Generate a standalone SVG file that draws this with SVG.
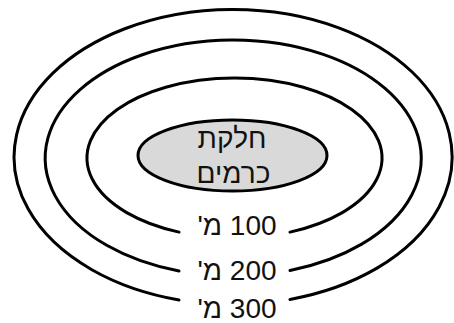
<svg xmlns="http://www.w3.org/2000/svg" width="454" height="323" viewBox="0 0 454 323">
<style>
.ring{fill:none;stroke:#000;stroke-width:3;stroke-linecap:round}
.core{fill:#d9d9d9;stroke:#000;stroke-width:3}
.t{font-family:"Liberation Sans",Arial,sans-serif;font-size:28px;fill:#111;text-anchor:middle}
</style>
<rect width="454" height="323" fill="#fff"/>
<g id="connectors">
<path id="ring300" class="ring" d="M290,299.4 A219,147.5 0 1 0 179,299.9"/>
<path id="ring200" class="ring" d="M290,270.5 A188,118 0 1 0 179,271"/>
<path id="ring100" class="ring" d="M290,232.1 A147.5,80 0 1 0 179,232.1"/>
</g>
<g id="core">
<ellipse class="core" cx="232.5" cy="155.5" rx="94.5" ry="35.5"/>
<text class="t" x="232" y="148" direction="rtl">חלקת</text>
<text class="t" x="233.5" y="183" direction="rtl">כרמים</text>
</g>
<g id="label100"><text class="t" x="237" y="235" direction="rtl">100 מ'</text></g>
<g id="label200"><text class="t" x="237" y="280" direction="rtl">200 מ'</text></g>
<g id="label300"><text class="t" x="237" y="318" direction="rtl">300 מ'</text></g>
</svg>
